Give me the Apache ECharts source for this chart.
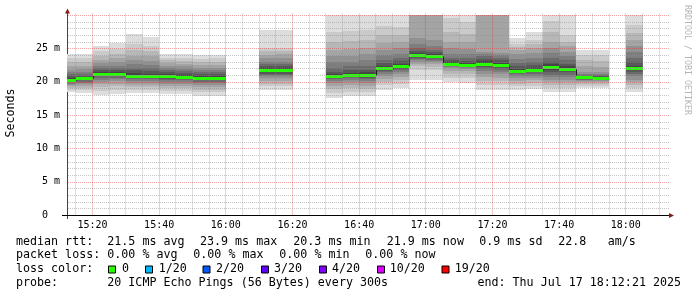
<!DOCTYPE html>
<html><head><meta charset="utf-8">
<script src="https://cdn.jsdelivr.net/npm/echarts@6/dist/echarts.min.js"></script>
<style>html,body{margin:0;padding:0;background:#fff}#c{width:697px;height:297px}</style>
</head><body><div id="c"></div>
<script>
// ---- data ----
const viewStart = '15:12:21';
const viewEnd = '18:12:21';
const stepMinutes = 5;
const columnStarts = ['15:10','15:15','15:20','15:25','15:30','15:35','15:40','15:45','15:50','15:55',
  '16:10','16:15','16:30','16:35','16:40','16:45','16:50','16:55','17:00','17:05','17:10','17:15',
  '17:20','17:25','17:30','17:35','17:40','17:45','17:50','18:00'];
const medians = [20.3,20.5,21.1,21.1,20.85,20.8,20.8,20.7,20.55,20.5,
  21.7,21.7,20.85,21.05,21.0,22.0,22.3,24.0,23.8,22.65,22.55,22.7,
  22.45,21.55,21.7,22.15,21.9,20.65,20.6,22.0];
// 20 sorted ping rtts (ms) per column
const pings = [
  [18.4,18.8,19.1,19.3,19.5,19.7,19.9,20.0,20.2,20.3,20.4,20.6,20.8,21.1,21.4,21.8,22.3,22.9,23.5,24.1],
  [18.3,18.7,19.0,19.3,19.6,19.8,20.0,20.2,20.4,20.5,20.6,20.7,20.9,21.2,21.5,21.9,22.4,23.0,23.6,24.1],
  [18.0,18.6,19.2,19.6,20.0,20.3,20.6,20.8,20.9,21.0,21.2,21.4,21.7,22.0,22.4,22.8,23.3,23.9,24.6,25.4],
  [18.1,18.7,19.3,19.7,20.1,20.4,20.6,20.8,20.9,21.0,21.2,21.4,21.7,22.0,22.4,22.9,23.5,24.1,24.9,25.8],
  [18.3,18.8,19.2,19.5,19.8,20.1,20.4,20.6,20.7,20.8,20.9,21.3,21.7,22.1,22.6,23.2,23.9,24.7,25.6,27.1],
  [18.3,18.8,19.2,19.5,19.8,20.1,20.4,20.6,20.7,20.8,20.9,21.2,21.6,22.0,22.5,23.1,23.8,24.6,25.4,26.7],
  [18.1,18.6,19.0,19.4,19.7,20.0,20.2,20.4,20.6,20.7,20.9,21.1,21.4,21.7,22.0,22.4,22.8,23.2,23.6,24.1],
  [18.2,18.6,19.0,19.4,19.7,20.0,20.2,20.4,20.5,20.6,20.8,21.0,21.3,21.6,21.9,22.3,22.7,23.1,23.6,24.1],
  [17.9,18.4,18.8,19.2,19.5,19.8,20.0,20.2,20.4,20.5,20.6,20.8,21.1,21.4,21.7,22.1,22.5,22.9,23.4,24.0],
  [17.9,18.4,18.8,19.2,19.5,19.8,20.0,20.2,20.3,20.4,20.6,20.8,21.1,21.4,21.7,22.1,22.5,22.9,23.5,24.0],
  [18.8,19.3,19.7,20.1,20.5,20.8,21.0,21.2,21.4,21.6,21.8,22.0,22.3,22.6,23.0,23.5,24.0,24.6,25.0,27.8],
  [18.8,19.3,19.7,20.1,20.5,20.8,21.0,21.2,21.4,21.6,21.8,22.0,22.3,22.6,23.0,23.5,24.1,24.6,25.1,27.7],
  [17.6,18.3,18.9,19.4,19.8,20.1,20.4,20.5,20.7,20.8,20.9,21.1,21.5,22.1,22.9,23.8,24.8,26.0,27.5,31.0],
  [17.8,18.5,19.1,19.5,19.9,20.2,20.5,20.7,20.9,21.0,21.1,21.3,21.7,22.3,23.0,23.9,24.9,26.1,27.6,31.0],
  [17.8,18.4,18.9,19.4,19.8,20.1,20.4,20.6,20.8,20.9,21.1,21.4,21.8,22.4,23.2,24.1,25.1,26.3,27.8,31.0],
  [18.8,19.5,20.0,20.4,20.8,21.1,21.4,21.6,21.8,21.9,22.1,22.4,22.8,23.3,24.0,24.8,25.8,27.0,28.3,31.0],
  [19.0,19.7,20.3,20.7,21.1,21.4,21.7,21.9,22.1,22.2,22.4,22.7,23.1,23.6,24.2,25.0,25.9,27.0,28.2,31.0],
  [20.3,21.8,22.3,22.7,23.0,23.2,23.4,23.6,23.8,23.9,24.1,24.3,24.6,25.0,25.6,26.5,30.5,33.0,36.0,40.0],
  [20.3,21.7,22.2,22.6,22.9,23.1,23.3,23.5,23.6,23.7,23.9,24.1,24.4,24.8,25.4,26.3,30.5,33.0,36.0,40.0],
  [19.9,20.6,21.2,21.6,22.0,22.2,22.4,22.5,22.6,22.6,22.7,22.9,23.2,23.6,24.2,25.0,26.0,27.5,29.5,32.0],
  [19.8,20.5,21.1,21.6,21.9,22.1,22.3,22.4,22.5,22.5,22.6,22.8,23.1,23.5,24.1,24.9,25.9,27.2,29.0,31.5],
  [18.8,19.5,20.1,20.7,21.2,21.6,21.9,22.2,22.4,22.6,22.8,23.1,23.4,23.8,24.1,24.4,31.0,34.0,37.0,41.0],
  [18.8,19.5,20.1,20.6,21.1,21.5,21.8,22.1,22.3,22.4,22.5,22.8,23.2,23.6,24.0,24.3,30.5,33.5,36.5,40.0],
  [18.7,19.3,19.7,20.1,20.5,20.8,21.1,21.3,21.4,21.5,21.6,21.9,22.3,22.8,23.4,24.1,24.7,25.2,25.7,26.5],
  [18.9,19.4,19.8,20.2,20.6,20.9,21.2,21.4,21.5,21.6,21.8,22.1,22.5,23.0,23.6,24.3,25.0,25.6,26.3,27.4],
  [18.5,19.0,19.5,19.9,20.3,20.7,21.0,21.5,21.8,22.0,22.3,22.6,23.0,23.6,24.3,25.0,26.0,27.5,29.1,32.0],
  [18.5,19.0,19.5,19.9,20.3,20.7,21.0,21.4,21.7,21.8,22.0,22.3,22.7,23.2,23.8,24.5,25.3,26.0,27.0,31.0],
  [19.1,19.4,19.7,19.9,20.1,20.2,20.3,20.4,20.5,20.6,20.7,20.8,20.9,21.0,21.2,21.5,22.3,23.2,24.0,24.8],
  [19.1,19.4,19.7,19.9,20.1,20.2,20.3,20.4,20.5,20.6,20.6,20.7,20.8,21.0,21.2,21.5,22.2,23.1,24.0,24.8],
  [18.5,19.0,19.5,19.9,20.3,20.8,21.2,21.5,21.8,21.9,22.1,22.4,22.9,23.6,24.4,25.3,26.3,27.3,28.5,31.0]
];
const xTickLabels = ['15:20','15:40','16:00','16:20','16:40','17:00','17:20','17:40','18:00'];
const yTickValues = [0,5,10,15,20,25];
const yMax = 30;
const lossLabels = ['0','1/20','2/20','3/20','4/20','10/20','19/20'];
const lossColors = ['#26ff00','#00b8ff','#0059ff','#5e00ff','#7e00ff','#dd00ff','#ff0000'];

// ---- helpers / styles ----
const MONO = '"DejaVu Sans Mono", monospace';
const toMin = s => { const p = s.split(':').map(Number); return p[0]*60 + p[1] + (p[2]||0)/60; };
const pad = n => String(n).padStart(2,'0');
const fmtMin = v => { const r = Math.round(v); return pad(Math.floor(r/60)) + ':' + pad(r%60); };
const half = 10;
const smokeColors = [];
for (let ib = 1; ib <= half; ib++) {
  const c = Math.floor(190/half*(half-ib)) + 50;
  smokeColors.push('rgb(' + c + ',' + c + ',' + c + ')');
}
const MINOR = 'rgba(140,140,140,0.5)';
const MAJOR = 'rgba(225,50,50,0.45)';
const MINOR_V = 'rgba(140,140,140,0.27)';
const MAJOR_V = 'rgba(225,50,50,0.27)';
const xMin = toMin(viewStart), xMax = toMin(viewEnd);

const colData = columnStarts.map((t, i) => {
  const s = toMin(t);
  const prevAdj = i > 0 && Math.abs(toMin(columnStarts[i-1]) + stepMinutes - s) < 0.01;
  return [s, s + stepMinutes, medians[i], prevAdj ? medians[i-1] : NaN];
});

function clipTo(rect, cs) {
  return echarts.graphic.clipRectByRect(rect, {x: cs.x, y: cs.y, width: cs.width, height: cs.height});
}

function renderSmoke(params, api) {
  const i = params.dataIndex;
  const s = api.value(0), e = api.value(1);
  const p = pings[i];
  const x0 = Math.round(api.coord([s, 0])[0]);
  const x1 = Math.round(api.coord([e, 0])[0]);
  const children = [];
  for (let k = 0; k < half; k++) {
    const lo = p[k], hi = p[19 - k];
    const yTop = Math.round(api.coord([s, hi])[1]);
    const yBot = Math.round(api.coord([s, lo])[1]);
    const r = clipTo({x: x0, y: yTop, width: x1 - x0, height: yBot - yTop}, params.coordSys);
    if (r) children.push({type: 'rect', shape: r, style: {fill: smokeColors[k]}});
  }
  return {type: 'group', children};
}

function renderMedLine(params, api) {
  const s = api.value(0), e = api.value(1), m = api.value(2), pm = api.value(3);
  const x0 = Math.max(Math.round(api.coord([s, m])[0]), params.coordSys.x);
  const x1 = Math.round(api.coord([e, m])[0]);
  const y = Math.round(api.coord([s, m])[1]) + 0.5;
  const children = [{type: 'line', shape: {x1: x0, y1: y, x2: x1, y2: y}, style: {stroke: '#202020', lineWidth: 1}}];
  if (!isNaN(pm)) {
    const yp = Math.round(api.coord([s, pm])[1]) + 0.5;
    children.push({type: 'line', shape: {x1: x0 + 0.5, y1: yp, x2: x0 + 0.5, y2: y}, style: {stroke: '#202020', lineWidth: 1}});
  }
  return {type: 'group', children};
}

function renderMedBand(params, api) {
  const s = api.value(0), e = api.value(1), m = api.value(2);
  const x0 = Math.round(api.coord([s, m])[0]);
  const x1 = Math.round(api.coord([e, m])[0]);
  const y = Math.round(api.coord([s, m])[1]);
  const r = clipTo({x: x0, y: y - 1, width: x1 - x0, height: 3}, params.coordSys);
  return r ? {type: 'rect', shape: r, style: {fill: lossColors[0]}} : null;
}

const vGridTimes = [];
for (let t = Math.ceil(xMin/stepMinutes)*stepMinutes; t <= xMax; t += stepMinutes) vGridTimes.push(t);
const hGridValues = [];
for (let v = 1; v <= yMax; v++) hGridValues.push(v);

function renderGrid(params, api) {
  const children = [];
  const yb = Math.round(api.coord([xMin, 0])[1]);
  const yt = Math.round(api.coord([xMin, yMax])[1]) - 2;
  vGridTimes.forEach(t => {
    const x = Math.floor(api.coord([t, 0])[0]);
    const major = Math.round(t) % 20 === 0;
    children.push({type: 'rect', shape: {x: x, y: yt, width: 1, height: yb - yt}, style: {fill: major ? MAJOR_V : MINOR_V}});
  });
  const xl = Math.round(api.coord([xMin, 0])[0]);
  const xr = Math.round(api.coord([xMax, 0])[0]) + 2;
  let hMinor = '', hMajor = '';
  hGridValues.forEach(v => {
    const y = Math.round(api.coord([xMin, v])[1]);
    let d = '';
    for (let x = xl + 1; x < xr; x += 2) d += 'M' + x + ' ' + y + 'h1v1h-1z';
    if (v % 5 === 0) hMajor += d; else hMinor += d;
  });
  children.push({type: 'path', shape: {pathData: hMinor}, style: {fill: MINOR}});
  children.push({type: 'path', shape: {pathData: hMajor}, style: {fill: MAJOR}});
  return {type: 'group', children};
}

const chart = echarts.init(document.getElementById('c'), null, {renderer: 'canvas'});
const gridBox = {left: 67, top: 15, width: 600, height: 200};

const txt = (x, y, text, extra) => Object.assign({
  type: 'text', x, y, silent: true,
  style: Object.assign({text, font: '11.66px ' + MONO, fill: '#000', align: 'left', verticalAlign: 'middle'}, extra || {})
});

const legendX = [123, 159.7, 217, 275, 333, 390.7, 455.7];
const boxX = [108.5, 145.5, 203, 261.5, 319.5, 377.5, 442];
const graphics = [
  {type: 'line', shape: {x1: 67.5, y1: 219, x2: 67.5, y2: 12}, style: {stroke: '#444', lineWidth: 1}},
  {type: 'polygon', shape: {points: [[65, 13.5], [70, 13.5], [67.5, 8.5]]}, style: {fill: '#8b1a1a'}},
  {type: 'line', shape: {x1: 62, y1: 215.5, x2: 670, y2: 215.5}, style: {stroke: '#000', lineWidth: 1}},
  {type: 'polygon', shape: {points: [[669, 213], [669, 218], [674, 215.5]]}, style: {fill: '#8b1a1a'}},
  {type: 'text', x: 11, y: 113, rotation: Math.PI/2, silent: true,
   style: {text: 'Seconds', font: '11.66px ' + MONO, fill: '#000', align: 'center', verticalAlign: 'middle'}},
  {type: 'text', x: 687.5, y: 60, rotation: -Math.PI/2, silent: true,
   style: {text: 'RRDTOOL / TOBI OETIKER', font: '8.3px ' + MONO, fill: '#b4b4b4', align: 'center', verticalAlign: 'middle'}},
  txt(16, 241.5, 'median rtt:'),
  txt(107.3, 241.5, '21.5 ms avg'),
  txt(200, 241.5, '23.9 ms max'),
  txt(293.3, 241.5, '20.3 ms min'),
  txt(386.7, 241.5, '21.9 ms now'),
  txt(479.3, 241.5, '0.9 ms sd'),
  txt(558.3, 241.5, '22.8'),
  txt(607.7, 241.5, 'am/s'),
  txt(16, 255, 'packet loss:'),
  txt(107.3, 255, '0.00 % avg'),
  txt(193.3, 255, '0.00 % max'),
  txt(279.3, 255, '0.00 % min'),
  txt(365.3, 255, '0.00 % now'),
  txt(16, 269, 'loss color:'),
  txt(16, 282.5, 'probe:'),
  txt(107.3, 282.5, '20 ICMP Echo Pings (56 Bytes) every 300s'),
  txt(681, 282.5, 'end: Thu Jul 17 18:12:21 2025', {align: 'right'})
];
lossLabels.forEach((l, i) => {
  graphics.push({type: 'rect', shape: {x: boxX[i], y: 266, width: 7, height: 7}, style: {fill: lossColors[i], stroke: '#000', lineWidth: 1}});
  graphics.push(txt(legendX[i] - 1, 269, l));
});

chart.setOption({
  animation: false,
  backgroundColor: '#fff',
  grid: gridBox,
  xAxis: {
    type: 'value', min: xMin, max: xMax,
    axisLine: {show: false}, axisTick: {show: false}, splitLine: {show: false},
    axisLabel: {customValues: xTickLabels.map(toMin), formatter: fmtMin, fontFamily: MONO, fontSize: 10, color: '#000', margin: 5}
  },
  yAxis: {
    type: 'value', min: 0, max: yMax, interval: 5,
    axisLine: {show: false}, axisTick: {show: false}, splitLine: {show: false},
    axisLabel: {customValues: yTickValues, formatter: v => v === 0 ? '0  ' : v + ' m', fontFamily: MONO, fontSize: 10, color: '#000', margin: 7}
  },
  series: [
    {type: 'custom', name: 'smoke', z: 1, renderItem: renderSmoke, data: colData, encode: {x: [0, 1], y: 2}, silent: true},
    {type: 'custom', name: 'medianLine', z: 2, renderItem: renderMedLine, data: colData, encode: {x: [0, 1], y: 2}, silent: true},
    {type: 'custom', name: 'median', z: 3, renderItem: renderMedBand, data: colData, encode: {x: [0, 1], y: 2}, silent: true},
    {type: 'custom', name: 'grid', z: 4, renderItem: renderGrid, data: [[xMin, 0]], encode: {x: 0, y: 1}, silent: true}
  ],
  graphic: graphics
});
</script></body></html>
